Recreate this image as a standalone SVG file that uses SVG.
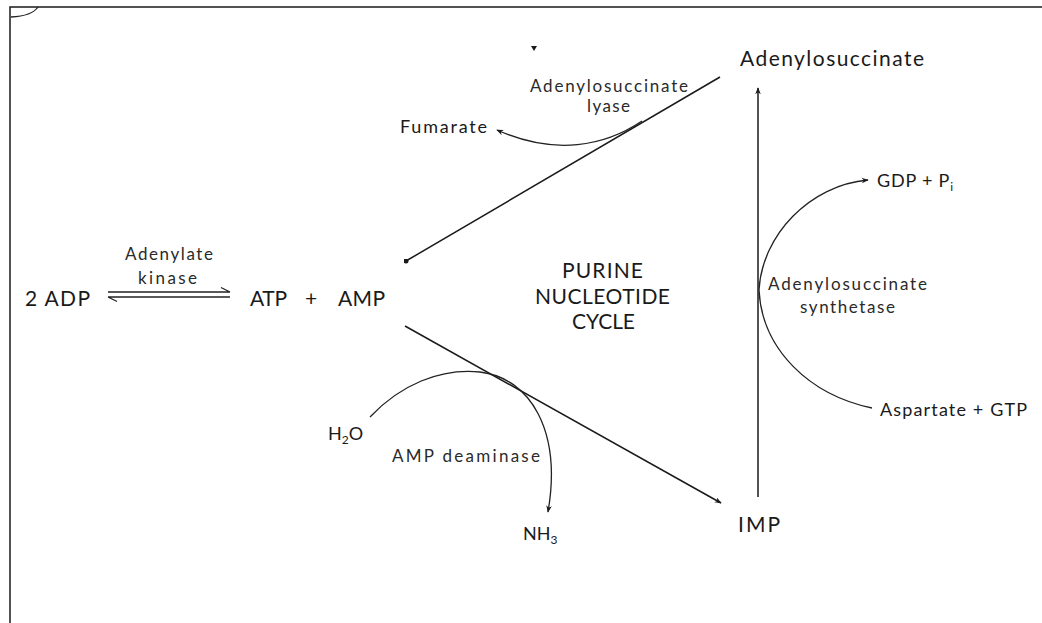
<svg xmlns="http://www.w3.org/2000/svg" width="1042" height="623" viewBox="0 0 1042 623">
<style>
  text { font-family: Lato, "Open Sans", "Liberation Sans", sans-serif; fill: #1a1a1a; }
  .big { font-size: 21px; }
  .small { font-size: 18px; }
  .enz { font-size: 17px; fill: #2a2a2a; }
  .sub { font-size: 12px; }
  .ln { fill: none; stroke: #1a1a1a; stroke-width: 1.5; }
  .thin { fill: none; stroke: #222; stroke-width: 1.3; }
</style>
<defs>
  <marker id="arr" viewBox="0 0 10 10" refX="9" refY="5" markerWidth="7" markerHeight="7" orient="auto" markerUnits="userSpaceOnUse">
    <path d="M0,1 L10,5 L0,9 L3,5 Z" fill="#1a1a1a"/>
  </marker>
  <marker id="dot" viewBox="0 0 10 10" refX="5" refY="5" markerWidth="5" markerHeight="5" markerUnits="userSpaceOnUse">
    <circle cx="5" cy="5" r="5" fill="#1a1a1a"/>
  </marker>
</defs>
<rect width="1042" height="623" fill="#fff"/>
<g id="border">
  <path class="ln" d="M10,623 L10,7 L1042,7" stroke-width="2"/>
  <path class="thin" d="M11,17 Q32,16 38,7"/>
  <path d="M531,46 L537,46 L534,51 Z" fill="#1a1a1a"/>
</g>
<g id="connectors">
  <line class="ln" x1="720" y1="77" x2="406" y2="261" marker-end="url(#dot)"/>
  <path class="thin" d="M642,121 C605,146 555,156 497,130" marker-end="url(#arr)"/>
  <line class="ln" x1="758" y1="497" x2="758" y2="88" marker-end="url(#arr)"/>
  <path class="thin" d="M872,408 C810,395 762,350 759,290 C762,235 810,185 868,180" marker-end="url(#arr)"/>
  <line class="ln" x1="405" y1="326" x2="721" y2="503" marker-end="url(#arr)"/>
  <path class="thin" d="M370,417 C400,385 440,368 480,372 C530,378 562,430 548,512" marker-end="url(#arr)"/>
  <g id="equilibrium">
    <path class="thin" d="M108,292 L230,292 M230,292 L221,287.5"/>
    <path class="thin" d="M230,297 L108,297 M108,297 L117,301.5"/>
  </g>
</g>
<g id="node-adp"><text class="big" x="25" y="306" textLength="65" lengthAdjust="spacing">2 ADP</text></g>
<g id="node-kinase">
  <text class="enz" x="125" y="260" textLength="88" lengthAdjust="spacing">Adenylate</text>
  <text class="enz" x="138" y="284" textLength="59" lengthAdjust="spacing">kinase</text>
</g>
<g id="node-atp-amp"><text class="big" x="250" y="306" textLength="37" lengthAdjust="spacing">ATP</text><text class="big" x="305" y="306">+</text><text class="big" x="338" y="306" textLength="47" lengthAdjust="spacing">AMP</text></g>
<g id="node-cycle">
  <text class="big" x="562" y="278" textLength="81" lengthAdjust="spacing">PURINE</text>
  <text class="big" x="535" y="304" textLength="135" lengthAdjust="spacing">NUCLEOTIDE</text>
  <text class="big" x="572" y="329" textLength="63" lengthAdjust="spacing">CYCLE</text>
</g>
<g id="node-adenylosuccinate"><text class="big" x="740" y="66" textLength="184" lengthAdjust="spacing">Adenylosuccinate</text></g>
<g id="node-lyase">
  <text class="enz" x="530" y="92" textLength="158" lengthAdjust="spacing">Adenylosuccinate</text>
  <text class="enz" x="587" y="112" textLength="43" lengthAdjust="spacing">lyase</text>
</g>
<g id="node-fumarate"><text class="small" x="400" y="133" textLength="87" lengthAdjust="spacing">Fumarate</text></g>
<g id="node-gdp"><text class="small" x="877" y="187" letter-spacing="0.8">GDP + P<tspan class="sub" dy="4">i</tspan></text></g>
<g id="node-synthetase">
  <text class="enz" x="768" y="290" textLength="159" lengthAdjust="spacing">Adenylosuccinate</text>
  <text class="enz" x="800" y="313" textLength="95" lengthAdjust="spacing">synthetase</text>
</g>
<g id="node-aspartate"><text class="small" x="880" y="416" textLength="147" lengthAdjust="spacing">Aspartate + GTP</text></g>
<g id="node-h2o"><text class="small" x="328" y="440">H<tspan class="sub" dy="4">2</tspan><tspan dy="-4">O</tspan></text></g>
<g id="node-deaminase"><text class="enz" x="392" y="462" textLength="148" lengthAdjust="spacing">AMP deaminase</text></g>
<g id="node-nh3"><text class="small" x="523" y="540">NH<tspan class="sub" dy="4">3</tspan></text></g>
<g id="node-imp"><text class="big" x="738" y="532" textLength="42" lengthAdjust="spacing">IMP</text></g>
</svg>
